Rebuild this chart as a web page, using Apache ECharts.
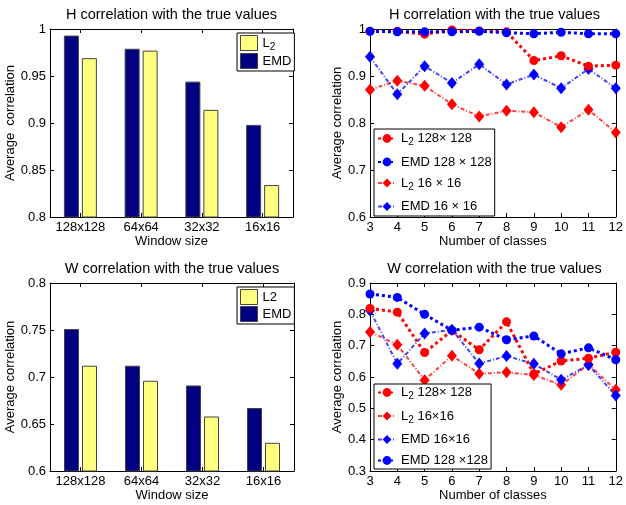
<!DOCTYPE html>
<html>
<head>
<meta charset="utf-8">
<script src="https://cdn.jsdelivr.net/npm/echarts@6/dist/echarts.min.js"></script>
<style>
html,body{margin:0;padding:0;background:#fff;}
#c{width:626px;height:505px;}
</style>
</head>
<body>
<div id="c"></div>
<script>
// ---- Data ----
const windowSizes = ['128x128', '64x64', '32x32', '16x16'];
const hBarEMD = [0.993, 0.979, 0.944, 0.898];
const hBarL2  = [0.969, 0.977, 0.914, 0.834];
const wBarEMD = [0.751, 0.712, 0.691, 0.667];
const wBarL2  = [0.712, 0.696, 0.658, 0.630];

const classes = [3, 4, 5, 6, 7, 8, 9, 10, 11, 12];
const hL2_128  = [0.995, 0.995, 0.989, 0.998, 0.996, 0.994, 0.933, 0.943, 0.921, 0.923];
const hEMD_128 = [0.995, 0.994, 0.994, 0.994, 0.995, 0.992, 0.990, 0.993, 0.990, 0.990];
const hL2_16   = [0.871, 0.890, 0.879, 0.840, 0.814, 0.826, 0.823, 0.791, 0.828, 0.780];
const hEMD_16  = [0.941, 0.861, 0.921, 0.885, 0.925, 0.882, 0.903, 0.874, 0.915, 0.874];

const wL2_128  = [0.819, 0.807, 0.678, 0.748, 0.687, 0.776, 0.610, 0.651, 0.660, 0.679];
const wL2_16   = [0.744, 0.703, 0.590, 0.668, 0.610, 0.615, 0.606, 0.575, 0.640, 0.559];
const wEMD_16  = [0.812, 0.642, 0.739, 0.751, 0.643, 0.667, 0.642, 0.591, 0.638, 0.541];
const wEMD_128 = [0.865, 0.854, 0.800, 0.749, 0.759, 0.719, 0.731, 0.674, 0.693, 0.655];

const hBarTicks = [0.8, 1, 0.05];
const wBarTicks = [0.6, 0.8, 0.05];
const hLineTicks = [0.6, 1, 0.1];
const wLineTicks = [0.3, 0.9, 0.1];

const titles = ['H correlation with the true values', 'H correlation with the true values',
                'W correlation with the true values', 'W correlation with the true values'];

// legend labels: [main text before subscript, subscript, rest]
const labelMap = {
  hL2: ['L', '2', ''], hEMD: ['EMD', '', ''], wL2: ['L2', '', ''], wEMD: ['EMD', '', ''],
  hL2_128: ['L', '2', ' 128\u00d7 128'], hEMD_128: ['EMD 128 \u00d7 128', '', ''],
  hL2_16: ['L', '2', ' 16 \u00d7 16'], hEMD_16: ['EMD 16 \u00d7 16', '', ''],
  wL2_128: ['L', '2', ' 128\u00d7 128'], wL2_16: ['L', '2', ' 16\u00d716'],
  wEMD_16: ['EMD 16\u00d716', '', ''], wEMD_128: ['EMD 128 \u00d7128', '', '']
};
function legendFormat(n) {
  const p = labelMap[n];
  let s = '{a|' + p[0] + '}';
  if (p[1]) s += '{s|' + p[1] + '}';
  if (p[2]) s += '{a|' + p[2] + '}';
  return s;
}

// ---- Layout / style ----
const FONT = "'Liberation Sans', Arial, Helvetica, sans-serif";
const grids = [
  {left: 50, top: 29, width: 243, height: 188},
  {left: 370, top: 29, width: 249, height: 188},
  {left: 50, top: 283, width: 244, height: 188},
  {left: 370, top: 283, width: 249, height: 188}
];
const txt = {color: '#000', fontFamily: FONT, fontSize: 13};
const axLine = {show: true, onZero: false, lineStyle: {color: '#000', width: 1}};

const xAxes = [], yAxes = [];
function addAxes(gi, isCat, yt, xName, yName, yGap, xGap) {
  const cat = isCat;
  xAxes.push({
    gridIndex: gi, type: cat ? 'category' : 'value', position: 'bottom',
    data: cat ? windowSizes : undefined,
    min: cat ? undefined : 3, max: cat ? undefined : 12, interval: cat ? undefined : 1,
    axisLine: axLine, splitLine: {show: false},
    axisTick: {show: true, inside: true, length: 4, alignWithLabel: true, interval: 0, lineStyle: {color: '#000'}},
    axisLabel: Object.assign({margin: 4, interval: 0}, txt),
    name: xName, nameLocation: 'middle', nameGap: xGap, nameTextStyle: txt
  });
  xAxes.push({
    gridIndex: gi, type: cat ? 'category' : 'value', position: 'top',
    data: cat ? windowSizes : undefined,
    min: cat ? undefined : 3, max: cat ? undefined : 12, interval: cat ? undefined : 1,
    axisLine: axLine, splitLine: {show: false},
    axisTick: {show: true, inside: true, length: 4, alignWithLabel: true, interval: 0, lineStyle: {color: '#000'}},
    axisLabel: {show: false}
  });
  yAxes.push({
    gridIndex: gi, type: 'value', position: 'left', min: yt[0], max: yt[1], interval: yt[2],
    axisLine: axLine, splitLine: {show: false},
    axisTick: {show: true, inside: true, length: 4, lineStyle: {color: '#000'}},
    axisLabel: Object.assign({margin: 4}, txt),
    name: yName, nameLocation: 'middle', nameGap: yGap, nameTextStyle: txt
  });
  yAxes.push({
    gridIndex: gi, type: 'value', position: 'right', min: yt[0], max: yt[1], interval: yt[2],
    axisLine: axLine, splitLine: {show: false},
    axisTick: {show: true, inside: true, length: 4, lineStyle: {color: '#000'}},
    axisLabel: {show: false}
  });
}
addAxes(0, true, hBarTicks, 'Window size', 'Average  correlation', 29, 15);
addAxes(1, false, hLineTicks, 'Number of classes', 'Average correlation', 20, 16);
addAxes(2, true, wBarTicks, 'Window size', 'Average correlation', 29, 16);
addAxes(3, false, wLineTicks, 'Number of classes', 'Average correlation', 20, 16);

const NAVY = '#000080', YEL = '#ffff80', RED = '#ff0000', BLUE = '#0000ff';
function bar(name, data, gi, color) {
  return {name, type: 'bar', xAxisIndex: gi * 2, yAxisIndex: gi * 2, data,
    barWidth: 15, barGap: '20%',
    itemStyle: {color, borderColor: '#444', borderWidth: 1}};
}
function line(name, data, gi, color, big) {
  return {name, type: 'line', xAxisIndex: gi * 2, yAxisIndex: gi * 2,
    data: classes.map((c, i) => [c, data[i]]),
    symbol: big ? 'circle' : 'diamond', symbolSize: big ? 9 : [10, 12],
    itemStyle: {color},
    lineStyle: big ? {color, width: 3, type: [3, 3]} : {color, width: 2, type: [4, 2, 1, 2], opacity: 0.75},
    z: big ? 3 : 2};
}

const series = [
  bar('hEMD', hBarEMD, 0, NAVY), bar('hL2', hBarL2, 0, YEL),
  bar('wEMD', wBarEMD, 2, NAVY), bar('wL2', wBarL2, 2, YEL),
  line('hL2_16', hL2_16, 1, RED, false), line('hEMD_16', hEMD_16, 1, BLUE, false),
  line('hL2_128', hL2_128, 1, RED, true), line('hEMD_128', hEMD_128, 1, BLUE, true),
  line('wL2_16', wL2_16, 3, RED, false), line('wEMD_16', wEMD_16, 3, BLUE, false),
  line('wL2_128', wL2_128, 3, RED, true), line('wEMD_128', wEMD_128, 3, BLUE, true)
];

const legText = {
  color: '#000', fontFamily: FONT, fontSize: 13,
  rich: {
    a: {color: '#000', fontFamily: FONT, fontSize: 13, lineHeight: 18},
    s: {color: '#000', fontFamily: FONT, fontSize: 10, lineHeight: 10, verticalAlign: 'bottom'}
  }
};
const legBase = {orient: 'vertical', borderColor: '#000', borderWidth: 1, backgroundColor: '#fff',
  textStyle: legText, formatter: legendFormat, selectedMode: false};
const legends = [
  Object.assign({}, legBase, {data: ['hL2', 'hEMD'], left: 237, top: 33, padding: [2, 3, 2, 3],
    icon: 'rect', itemWidth: 17, itemHeight: 15, itemGap: 1, itemTextGap: 3,
    itemStyle: {borderColor: '#444', borderWidth: 1}}),
  Object.assign({}, legBase, {data: ['wL2', 'wEMD'], left: 237, top: 287, padding: [2, 3, 2, 3],
    icon: 'rect', itemWidth: 17, itemHeight: 15, itemGap: 1, itemTextGap: 3,
    itemStyle: {borderColor: '#444', borderWidth: 1}}),
  Object.assign({}, legBase, {data: ['hL2_128', 'hEMD_128', 'hL2_16', 'hEMD_16'], left: 374, top: 129,
    padding: [3, 3, 3, 3], itemWidth: 18, itemHeight: 11, itemGap: 8, itemTextGap: 4}),
  Object.assign({}, legBase, {data: ['wL2_128', 'wL2_16', 'wEMD_16', 'wEMD_128'], left: 374, top: 384,
    padding: [2, 3, 2, 3], itemWidth: 18, itemHeight: 11, itemGap: 8, itemTextGap: 4})
];

const titleCenters = [[171.5, 7], [494.5, 7], [172, 261], [494.5, 261]];
const titleOpts = titles.map((t, i) => ({
  text: t, left: titleCenters[i][0], top: titleCenters[i][1], textAlign: 'center',
  textStyle: {color: '#000', fontFamily: FONT, fontSize: 14.5, fontWeight: 'normal'}, padding: 0
}));

const chart = echarts.init(document.getElementById('c'), null, {renderer: 'canvas'});
chart.setOption({
  animation: false,
  backgroundColor: '#fff',
  title: titleOpts,
  grid: grids,
  xAxis: xAxes,
  yAxis: yAxes,
  legend: legends,
  series: series
});
</script>
</body>
</html>
